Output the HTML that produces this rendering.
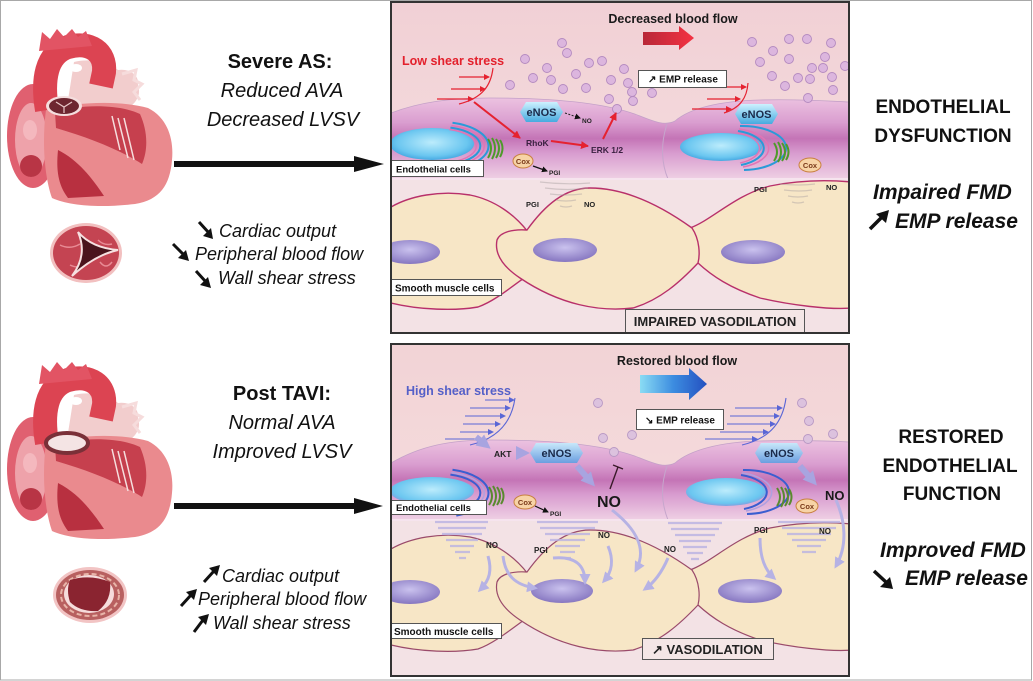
<!DOCTYPE html>
<html><head><meta charset="utf-8">
<style>
html,body{margin:0;padding:0;background:#fff;width:1033px;height:681px;overflow:hidden}
svg{display:block}
text{font-family:"Liberation Sans",Arial,sans-serif}
</style></head><body>
<svg width="1033" height="681" viewBox="0 0 1033 681" xmlns="http://www.w3.org/2000/svg">
<defs>
<clipPath id="cT"><rect x="391" y="2" width="458" height="331"/></clipPath>
<clipPath id="cB"><rect x="391" y="344" width="458" height="332"/></clipPath>
<linearGradient id="lumT" x1="0" y1="0" x2="0" y2="1"><stop offset="0" stop-color="#f1d0d5"/><stop offset="1" stop-color="#f7e4e4"/></linearGradient>
<linearGradient id="lumB" x1="0" y1="0" x2="0" y2="1"><stop offset="0" stop-color="#f2d3d6"/><stop offset="1" stop-color="#f7e4e2"/></linearGradient>
<linearGradient id="endo" x1="0" y1="0" x2="0" y2="1">
<stop offset="0" stop-color="#ecc2e0"/><stop offset="0.3" stop-color="#da9ed0"/><stop offset="0.5" stop-color="#c474b6"/><stop offset="0.68" stop-color="#d89ccf"/><stop offset="1" stop-color="#efd0e4"/></linearGradient>
<radialGradient id="nuc" cx="0.5" cy="0.45" r="0.6"><stop offset="0" stop-color="#bcecfc"/><stop offset="0.7" stop-color="#6ac6f0"/><stop offset="1" stop-color="#3a9edc"/></radialGradient>
<radialGradient id="nucB" cx="0.5" cy="0.45" r="0.6"><stop offset="0" stop-color="#bcecfc"/><stop offset="0.75" stop-color="#6ac6f0"/><stop offset="1" stop-color="#8a90d8"/></radialGradient>
<radialGradient id="smn" cx="0.5" cy="0.4" r="0.6"><stop offset="0" stop-color="#cac2ee"/><stop offset="1" stop-color="#8676c0"/></radialGradient>
<linearGradient id="hex" x1="0" y1="0" x2="0" y2="1"><stop offset="0" stop-color="#cdf1ff"/><stop offset="1" stop-color="#46aadf"/></linearGradient>
<linearGradient id="hexB" x1="0" y1="0" x2="0" y2="1"><stop offset="0" stop-color="#c8e8fa"/><stop offset="1" stop-color="#6a9ee0"/></linearGradient>
<linearGradient id="redA" x1="0" x2="1" y1="0" y2="0"><stop offset="0" stop-color="#b82838"/><stop offset="1" stop-color="#f43242"/></linearGradient>
<linearGradient id="bluA" x1="0" x2="1" y1="0" y2="0"><stop offset="0" stop-color="#8adcf4"/><stop offset="0.5" stop-color="#3c8ce0"/><stop offset="1" stop-color="#2450c0"/></linearGradient>
<marker id="mR" markerUnits="userSpaceOnUse" markerWidth="8" markerHeight="8" refX="7" refY="4" orient="auto"><path d="M0,0 L8,4 L0,8 Z" fill="#e52230"/></marker>
<marker id="mRs" markerUnits="userSpaceOnUse" markerWidth="6" markerHeight="6" refX="5" refY="3" orient="auto"><path d="M0,0 L6,3 L0,6 Z" fill="#e52230"/></marker>
<marker id="mBl" markerUnits="userSpaceOnUse" markerWidth="6" markerHeight="6" refX="5" refY="3" orient="auto"><path d="M0,0 L6,3 L0,6 Z" fill="#5a66d6"/></marker>
<marker id="mK" markerUnits="userSpaceOnUse" markerWidth="6" markerHeight="6" refX="5" refY="3" orient="auto"><path d="M0,0 L6,3 L0,6 Z" fill="#111"/></marker>
<marker id="mL" markerUnits="userSpaceOnUse" markerWidth="11" markerHeight="11" refX="8" refY="5.5" orient="auto"><path d="M0,0 L11,5.5 L0,11 Z" fill="#b6b2e4"/></marker>
<marker id="mLB" markerUnits="userSpaceOnUse" markerWidth="14" markerHeight="14" refX="8" refY="7" orient="auto"><path d="M0,0 L14,7 L0,14 Z" fill="#a8a4e0"/></marker>
<g id="heartBase">
 <path d="M74,62 C90,58 108,62 118,70 C130,68 140,76 138,86 C142,96 134,106 124,110 C100,112 82,106 68,100 Z" fill="#f2cdcd"/>
 <path d="M122,74 L136,70 L134,80 L142,84 L134,92 L140,100" fill="none" stroke="#f6dcdc" stroke-width="3"/>
 <ellipse cx="33" cy="136" rx="26" ry="52" fill="#e06070"/>
 <ellipse cx="31" cy="140" rx="16" ry="37" fill="#eea2aa"/>
 <ellipse cx="30" cy="130" rx="7" ry="10" fill="#f4b8be"/>
 <ellipse cx="31" cy="166" rx="11" ry="11" fill="#b83545"/>
 <path d="M46,110 C75,102 120,100 148,108 C168,118 174,140 172,160 C170,185 160,200 135,204 C100,208 70,206 52,198 C44,175 42,140 46,110 Z" fill="#ea8a8e"/>
 <path d="M55,112 C80,104 120,104 140,114 C148,132 148,150 142,164 C120,150 90,138 56,128 Z" fill="#c6404e"/>
 <path d="M58,150 C78,160 92,178 104,196 L68,198 C58,185 56,170 58,150 Z" fill="#b83040"/>
 <path d="M118,118 L128,158 M124,118 L134,160 M112,116 L120,150" stroke="#f6dede" stroke-width="1.5"/>
 <path d="M47,110 C42,80 46,54 68,47 C90,41 106,52 104,72 L101,86" fill="none" stroke="#dc4452" stroke-width="24"/>
 <path d="M39,51 L42,32 L50,39 L57,29 L64,37 L72,29 L78,37 L86,31 L92,46 Z" fill="#e25464"/>
 <ellipse cx="76" cy="68" rx="6" ry="4" fill="#fff"/>
</g>
</defs>

<rect x="0" y="0" width="1033" height="681" fill="#fff"/>
<rect x="0.5" y="0.5" width="1031" height="679.5" fill="none" stroke="#a8a8a8" stroke-width="1"/>

<!-- ================= HEARTS ================= -->
<use href="#heartBase"/>
<ellipse cx="64" cy="106" rx="18" ry="10" fill="#f4dede"/>
<ellipse cx="64" cy="106" rx="15" ry="8" fill="#6e2630"/>
<path d="M56,102 L64,107 L72,102 M64,107 L64,113" stroke="#e8c8c8" stroke-width="1.2" fill="none"/>
<!-- top valve -->
<ellipse cx="86" cy="253" rx="36" ry="30" fill="#f2c0c0"/>
<ellipse cx="86" cy="253" rx="33" ry="27" fill="#c44452"/>
<path d="M60,245 Q70,250 80,244 M98,240 Q104,246 112,244 M70,265 Q80,270 86,262 M100,262 Q106,270 112,262" stroke="#e88a94" stroke-width="1.5" fill="none"/>
<path d="M78,232 Q92,248 118,250 Q95,255 72,276 Q88,255 78,232 Z" fill="#4a141c" stroke="#f6e0e0" stroke-width="2"/>

<g transform="translate(0,333)">
 <use href="#heartBase"/>
 <ellipse cx="67" cy="110" rx="21" ry="10" fill="#f4e4e4" stroke="#7a3038" stroke-width="4"/>
</g>
<!-- bottom valve -->
<ellipse cx="90" cy="595" rx="37" ry="28" fill="#f2c4c4"/>
<ellipse cx="90" cy="595" rx="34" ry="25" fill="#b86060"/>
<ellipse cx="90" cy="595" rx="29" ry="21" fill="none" stroke="#e8b4a8" stroke-width="2" stroke-dasharray="5 3"/>
<ellipse cx="89" cy="594" rx="25" ry="19" fill="#f6dcdc"/>
<path d="M70,580 Q90,574 110,582 Q112,600 98,611 Q80,612 70,602 Q66,590 70,580 Z" fill="#8a2430"/>

<!-- ================= LEFT TEXT ================= -->
<text x="280" y="68" font-size="20" font-weight="bold" text-anchor="middle" fill="#111">Severe AS:</text>
<text x="282" y="97" font-size="20" font-style="italic" text-anchor="middle" fill="#111">Reduced AVA</text>
<text x="283" y="126" font-size="20" font-style="italic" text-anchor="middle" fill="#111">Decreased LVSV</text>
<line x1="174" y1="164" x2="357" y2="164" stroke="#111" stroke-width="6"/>
<polygon points="354,156 384,164 354,172" fill="#111"/>

<g fill="#111" font-size="18" font-style="italic">
<text x="219" y="237">Cardiac  output</text>
<text x="195" y="260">Peripheral blood flow</text>
<text x="218" y="284">Wall shear stress</text>
</g>
<g stroke="#111" stroke-width="3">
<line x1="199" y1="222" x2="209" y2="233"/><line x1="173" y1="244" x2="184" y2="255"/><line x1="196" y1="271" x2="206" y2="282"/>
</g>
<g fill="#111">
<polygon points="213,239 203,236 211,228"/><polygon points="189,261 178,258 186,250"/><polygon points="211,288 200,285 208,277"/>
</g>

<text x="282" y="400" font-size="20" font-weight="bold" text-anchor="middle" fill="#111">Post TAVI:</text>
<text x="282" y="429" font-size="20" font-style="italic" text-anchor="middle" fill="#111">Normal AVA</text>
<text x="282" y="458" font-size="20" font-style="italic" text-anchor="middle" fill="#111">Improved LVSV</text>
<line x1="174" y1="506" x2="357" y2="506" stroke="#111" stroke-width="6"/>
<polygon points="354,498 383,506 354,514" fill="#111"/>

<g fill="#111" font-size="18" font-style="italic">
<text x="222" y="582">Cardiac  output</text>
<text x="198" y="605">Peripheral blood flow</text>
<text x="213" y="629">Wall shear stress</text>
</g>
<g stroke="#111" stroke-width="3">
<line x1="204" y1="582" x2="214" y2="571"/><line x1="181" y1="606" x2="191" y2="595"/><line x1="194" y1="632" x2="203" y2="620"/>
</g>
<g fill="#111">
<polygon points="220,565 217,576 209,568"/><polygon points="197,589 194,600 186,592"/><polygon points="209,614 206,625 198,617"/>
</g>

<!-- ================= RIGHT TEXT ================= -->
<g fill="#111" font-weight="bold" text-anchor="middle" font-size="19">
<text x="943" y="113">ENDOTHELIAL</text>
<text x="943" y="142">DYSFUNCTION</text>
<text x="951" y="443">RESTORED</text>
<text x="950" y="472">ENDOTHELIAL</text>
<text x="952" y="500">FUNCTION</text>
</g>
<g fill="#111" font-weight="bold" font-style="italic" font-size="21">
<text x="873" y="199">Impaired FMD</text>
<text x="895" y="228">EMP release</text>
<text x="880" y="557">Improved FMD</text>
<text x="905" y="585">EMP release</text>
</g>
<line x1="870" y1="229" x2="882" y2="217" stroke="#111" stroke-width="3.5"/>
<polygon points="889,210 886,223 876,214" fill="#111"/>
<line x1="874" y1="571" x2="887" y2="583" stroke="#111" stroke-width="3.5"/>
<polygon points="893,589 880,587 890,577" fill="#111"/>

<!-- ================= TOP PANEL ================= -->
<g clip-path="url(#cT)">
<rect x="391" y="2" width="458" height="331" fill="url(#lumT)"/>
<rect x="391" y="176" width="458" height="160" fill="#f3e2e5"/>
<path d="M391,113 C420,102 450,98 490,98 C560,98 610,104 640,116 C655,122 665,126 675,121 C690,108 720,101 760,100 C800,99 830,101 849,102 L849,179 L391,179 Z" fill="url(#endo)" stroke="#c4a0c8" stroke-width="0.8"/>
<path d="M667,124 C660,145 662,165 668,179" stroke="#c6a6cc" fill="none"/>
<line x1="391" y1="179" x2="849" y2="179" stroke="#f6e4ee" stroke-width="2"/>

<!-- smooth muscle cells -->
<g fill="#f7e6c6" stroke="#b8306a" stroke-width="1.4">
<path d="M391,207 C410,196 440,190 470,195 C495,200 515,215 528,232 C520,250 518,268 524,278 C505,292 492,302 478,307 C455,311 420,310 391,303 Z"/>
<path d="M690,228 C712,220 735,195 770,186 C800,180 830,180 852,182 L852,308 C830,310 790,305 760,298 C730,288 712,276 698,263 C688,252 685,238 690,228 Z"/>
<path d="M497,240 C500,232 513,229 527,230 C545,205 565,188 590,188 C625,188 660,205 692,228 C700,240 700,255 698,263 C680,282 660,300 633,308 C600,312 560,305 520,278 C505,268 494,255 497,240 Z"/>
</g>
<ellipse cx="410" cy="252" rx="30" ry="12" fill="url(#smn)"/>
<ellipse cx="565" cy="250" rx="32" ry="12" fill="url(#smn)"/>
<ellipse cx="753" cy="252" rx="32" ry="12" fill="url(#smn)"/>
<g stroke="#a8a0a0" stroke-width="1.2" fill="none" opacity="0.45">
<path d="M540,182 Q565,185 590,183 M545,188 Q568,191 588,188 M550,194 Q566,196 582,194 M556,200 Q566,202 576,200 M560,206 Q566,208 572,206"/>
<path d="M780,184 Q800,186 815,184 M784,190 Q800,192 812,190 M788,196 Q798,198 808,196 M792,202 Q798,204 804,202"/>
</g>
<g font-size="7.5" font-weight="bold" fill="#222">
<text x="526" y="207">PGI</text><text x="584" y="207">NO</text>
<text x="754" y="192">PGI</text><text x="826" y="190">NO</text>
</g>

<!-- nuclei + arcs -->
<ellipse cx="432" cy="144" rx="42" ry="16" fill="url(#nuc)"/>
<g fill="none">
<path d="M452.5,122.7 A48,24 0 0 1 456.3,168.6" stroke="#2a9ad8" stroke-width="2"/>
<path d="M451.4,125.6 A44,21 0 0 1 455,165.7" stroke="#e274b4" stroke-width="1.5"/>
<path d="M450.4,127.6 A40,19 0 0 1 453.6,163.9" stroke="#2a9ad8" stroke-width="2"/>
<path d="M449.4,129.5 A36,17 0 0 1 452.2,162" stroke="#e274b4" stroke-width="1.4"/>
</g>
<g fill="none" stroke="#4e9a2a" stroke-width="2">
<path d="M488,139 Q494,148 488,158"/><path d="M492,138 Q498,148 492,159"/><path d="M496,139 Q502,148 496,158"/><path d="M500,140 Q505,148 500,157"/>
</g>
<ellipse cx="721" cy="147" rx="41" ry="14" fill="url(#nuc)"/>
<g fill="none">
<path d="M740,126 A44,22 0 0 1 744,170" stroke="#2a9ad8" stroke-width="2"/>
<path d="M739,129 A40,20 0 0 1 743,167" stroke="#e274b4" stroke-width="1.5"/>
<path d="M738,131 A36,18 0 0 1 741,165" stroke="#2a9ad8" stroke-width="2"/>
<path d="M737,133 A32,16 0 0 1 740,163" stroke="#e274b4" stroke-width="1.4"/>
</g>
<g fill="none" stroke="#4e9a2a" stroke-width="2">
<path d="M774,143 Q780,152 774,161"/><path d="M778,142 Q784,152 778,162"/><path d="M782,143 Q788,152 782,161"/><path d="M786,144 Q791,152 786,160"/>
</g>

<!-- eNOS -->
<polygon points="526,102 557,102 563,112 557,122 526,122 520,112" fill="url(#hex)"/>
<text x="541.5" y="116" font-size="11" font-weight="bold" text-anchor="middle" fill="#1a2a4a">eNOS</text>
<polygon points="741,104 772,104 778,114 772,124 741,124 735,114" fill="url(#hex)"/>
<text x="756.5" y="118" font-size="11" font-weight="bold" text-anchor="middle" fill="#1a2a4a">eNOS</text>
<line x1="565" y1="113" x2="580" y2="118" stroke="#222" stroke-width="1" stroke-dasharray="2 1.5" marker-end="url(#mK)"/>
<text x="582" y="123" font-size="6.5" font-weight="bold" fill="#222">NO</text>

<!-- microparticles -->
<g fill="#dcb6de" stroke="#b48ac0" stroke-width="0.9">
<circle cx="562" cy="43" r="4.5"/><circle cx="567" cy="53" r="4.5"/><circle cx="525" cy="59" r="4.5"/><circle cx="547" cy="68" r="4.5"/><circle cx="533" cy="78" r="4.5"/><circle cx="551" cy="80" r="4.5"/><circle cx="576" cy="74" r="4.5"/><circle cx="589" cy="63" r="4.5"/><circle cx="602" cy="61" r="4.5"/><circle cx="624" cy="69" r="4.5"/><circle cx="611" cy="80" r="4.5"/><circle cx="586" cy="88" r="4.5"/><circle cx="563" cy="89" r="4.5"/><circle cx="510" cy="85" r="4.5"/><circle cx="628" cy="83" r="4.5"/><circle cx="632" cy="92" r="4.5"/><circle cx="652" cy="93" r="4.5"/><circle cx="609" cy="99" r="4.5"/><circle cx="633" cy="101" r="4.5"/><circle cx="617" cy="109" r="4.5"/>
<circle cx="752" cy="42" r="4.5"/><circle cx="773" cy="51" r="4.5"/><circle cx="789" cy="39" r="4.5"/><circle cx="807" cy="39" r="4.5"/><circle cx="831" cy="43" r="4.5"/><circle cx="760" cy="62" r="4.5"/><circle cx="789" cy="59" r="4.5"/><circle cx="825" cy="57" r="4.5"/><circle cx="812" cy="68" r="4.5"/><circle cx="823" cy="68" r="4.5"/><circle cx="845" cy="66" r="4.5"/><circle cx="772" cy="76" r="4.5"/><circle cx="798" cy="78" r="4.5"/><circle cx="810" cy="79" r="4.5"/><circle cx="832" cy="77" r="4.5"/><circle cx="785" cy="86" r="4.5"/><circle cx="833" cy="90" r="4.5"/><circle cx="808" cy="98" r="4.5"/>
</g>

<!-- titles -->
<text x="673" y="23" font-size="12.5" font-weight="bold" text-anchor="middle" fill="#1a1a1a">Decreased blood flow</text>
<polygon points="643,32 679,32 679,26 694,38 679,50 679,45 643,45" fill="url(#redA)"/>
<text x="402" y="65" font-size="12.5" font-weight="bold" fill="#e3202c">Low shear stress</text>

<!-- red flow lines -->
<g stroke="#e52230" stroke-width="1.2" fill="none">
<path d="M493,68 C491,85 483,98 459,104"/>
<line x1="459" y1="77" x2="489" y2="77" marker-end="url(#mRs)"/>
<line x1="451" y1="89" x2="485" y2="89" marker-end="url(#mRs)"/>
<line x1="437" y1="99" x2="473" y2="99" marker-end="url(#mRs)"/>
<path d="M748,83 C747,98 740,108 724,113"/>
<line x1="714" y1="87" x2="746" y2="87" marker-end="url(#mRs)"/>
<line x1="707" y1="99" x2="740" y2="99" marker-end="url(#mRs)"/>
<line x1="692" y1="109" x2="731" y2="109" marker-end="url(#mRs)"/>
</g>
<g stroke="#e52230" stroke-width="2" fill="none">
<line x1="474" y1="102" x2="520" y2="138" marker-end="url(#mR)"/>
<line x1="551" y1="141" x2="588" y2="146" marker-end="url(#mR)"/>
<line x1="603" y1="139" x2="616" y2="113" marker-end="url(#mR)"/>
</g>
<text x="526" y="146" font-size="8.5" font-weight="bold" fill="#3a2040">RhoK</text>
<text x="591" y="153" font-size="8.5" font-weight="bold" fill="#3a2040">ERK 1/2</text>

<!-- Cox -->
<ellipse cx="523" cy="161" rx="10" ry="7" fill="#f7d3a6" stroke="#c88040"/>
<text x="523" y="164" font-size="7.5" font-weight="bold" text-anchor="middle" fill="#7a3a1a">Cox</text>
<line x1="533" y1="166" x2="547" y2="171" stroke="#111" stroke-width="1.2" marker-end="url(#mK)"/>
<text x="549" y="175" font-size="6.5" font-weight="bold" fill="#222">PGI</text>
<ellipse cx="810" cy="165" rx="11" ry="7" fill="#f7d3a6" stroke="#c88040"/>
<text x="810" y="168" font-size="7.5" font-weight="bold" text-anchor="middle" fill="#7a3a1a">Cox</text>

<!-- boxes -->
<rect x="638.5" y="70.5" width="88" height="17" fill="#fff" stroke="#555"/>
<text x="648" y="82.5" font-size="10" font-weight="bold" fill="#111">↗ EMP release</text>
<rect x="391.5" y="160.5" width="92" height="16" fill="#fff" stroke="#555"/>
<text x="396" y="172.5" font-size="9.5" font-weight="bold" fill="#111">Endothelial cells</text>
<rect x="391.5" y="279.5" width="110" height="16" fill="#fff" stroke="#555"/>
<text x="395" y="291.5" font-size="10" font-weight="bold" fill="#111">Smooth muscle cells</text>
<rect x="625.5" y="309.5" width="179" height="23" fill="#f4e6e6" stroke="#555"/>
<text x="715" y="326" font-size="13" font-weight="bold" text-anchor="middle" fill="#222">IMPAIRED VASODILATION</text>
</g>
<rect x="391" y="2" width="458" height="331" fill="none" stroke="#333" stroke-width="2"/>

<!-- ================= BOTTOM PANEL ================= -->
<g clip-path="url(#cB)">
<rect x="391" y="344" width="458" height="332" fill="url(#lumB)"/>
<rect x="391" y="518" width="458" height="160" fill="#f3e2e5"/>
<path d="M391,463 C420,446 450,440 490,440 C560,440 610,446 640,458 C655,464 665,468 675,463 C690,450 720,442 760,441 C800,440 830,441 849,442 L849,520 L391,520 Z" fill="url(#endo)" stroke="#c4a0c8" stroke-width="0.8"/>
<path d="M667,466 C660,487 662,505 668,520" stroke="#c6a6cc" fill="none"/>
<line x1="391" y1="520" x2="849" y2="520" stroke="#f6e4ee" stroke-width="2"/>

<g transform="translate(0,342)">
<g fill="#f7e6c6" stroke="#9a4a6a" stroke-width="1.2">
<path d="M391,207 C410,196 440,190 470,195 C495,200 515,215 528,232 C520,250 518,268 524,278 C505,292 492,302 478,307 C455,311 420,310 391,303 Z"/>
<path d="M690,228 C712,220 735,195 770,186 C800,180 830,180 852,182 L852,308 C830,310 790,305 760,298 C730,288 712,276 698,263 C688,252 685,238 690,228 Z"/>
<path d="M497,240 C500,232 513,229 527,230 C545,205 565,188 590,188 C625,188 660,205 692,228 C700,240 700,255 698,263 C680,282 660,300 633,308 C600,312 560,305 520,278 C505,268 494,255 497,240 Z"/>
</g>
<ellipse cx="410" cy="250" rx="30" ry="12" fill="url(#smn)"/>
<ellipse cx="562" cy="249" rx="31" ry="12" fill="url(#smn)"/>
<ellipse cx="750" cy="249" rx="32" ry="12" fill="url(#smn)"/>
</g>

<!-- lavender funnels -->
<g stroke="#b8b2e2" stroke-width="2.2" fill="none" opacity="0.8">
<path d="M435,522 L488,522 M438,528 L486,528 M442,534 L482,534 M446,540 L478,540 M450,546 L474,546 M455,552 L470,552 M459,558 L466,558"/>
<path d="M537,522 L598,522 M540,528 L595,528 M545,534 L590,534 M550,540 L585,540 M555,546 L580,546 M560,552 L575,552 M564,558 L571,558"/>
<path d="M668,523 L722,523 M671,529 L719,529 M675,535 L715,535 M679,541 L711,541 M683,547 L707,547 M687,553 L703,553 M691,559 L699,559"/>
<path d="M778,522 L840,522 M782,528 L836,528 M787,534 L831,534 M792,540 L826,540 M797,546 L821,546 M802,552 L816,552"/>
</g>
<!-- curved lavender arrows -->
<g stroke="#b6b2e4" stroke-width="3" fill="none">
<path d="M488,556 C492,570 490,580 480,590" marker-end="url(#mL)"/>
<path d="M503,556 C505,575 515,585 535,588" marker-end="url(#mL)"/>
<path d="M553,558 C575,556 585,565 585,582" marker-end="url(#mL)"/>
<path d="M608,546 C614,560 612,572 604,581" marker-end="url(#mL)"/>
<path d="M612,510 C635,528 648,548 636,570" marker-end="url(#mL)"/>
<path d="M668,558 C662,572 655,582 645,589" marker-end="url(#mL)"/>
<path d="M760,538 C760,558 765,570 774,578" marker-end="url(#mL)"/>
<path d="M836,500 C845,520 848,545 836,566" marker-end="url(#mL)"/>
</g>
<g font-size="8" font-weight="bold" fill="#222">
<text x="486" y="548">NO</text><text x="598" y="538">NO</text><text x="534" y="553">PGI</text><text x="664" y="552">NO</text><text x="754" y="533">PGI</text><text x="819" y="534">NO</text>
</g>

<!-- nuclei + arcs -->
<ellipse cx="432" cy="491" rx="42" ry="14" fill="url(#nucB)"/>
<g fill="none">
<path d="M452.5,469.7 A48,24 0 0 1 456.3,515.6" stroke="#3a5ed0" stroke-width="2"/>
<path d="M451.4,472.6 A44,21 0 0 1 455,512.7" stroke="#b0a0e0" stroke-width="1.5"/>
<path d="M450.4,474.6 A40,19 0 0 1 453.6,510.9" stroke="#3a5ed0" stroke-width="2"/>
</g>
<g fill="none" stroke="#5a8a30" stroke-width="2">
<path d="M489,487 Q495,496 489,505"/><path d="M493,486 Q499,496 493,506"/><path d="M497,487 Q503,496 497,505"/><path d="M501,488 Q506,496 501,504"/>
</g>
<ellipse cx="726" cy="492" rx="40" ry="14" fill="url(#nucB)"/>
<g fill="none">
<path d="M743,470 A44,22 0 0 1 747,514" stroke="#3a5ed0" stroke-width="2"/>
<path d="M742,473 A40,20 0 0 1 746,511" stroke="#b0a0e0" stroke-width="1.5"/>
<path d="M741,475 A36,18 0 0 1 744,509" stroke="#3a5ed0" stroke-width="2"/>
</g>
<g fill="none" stroke="#5a8a30" stroke-width="2">
<path d="M777,488 Q783,497 777,506"/><path d="M781,487 Q787,497 781,507"/><path d="M785,488 Q791,497 785,506"/><path d="M789,489 Q794,497 789,505"/>
</g>

<!-- circles -->
<g fill="#dcc2de" stroke="#b898c4" stroke-width="0.9">
<circle cx="598" cy="403" r="4.5"/><circle cx="603" cy="438" r="4.5"/><circle cx="632" cy="435" r="4.5"/><circle cx="614" cy="452" r="4.5"/>
<circle cx="802" cy="403" r="4.5"/><circle cx="809" cy="421" r="4.5"/><circle cx="833" cy="434" r="4.5"/><circle cx="808" cy="439" r="4.5"/>
</g>

<text x="677" y="365" font-size="12.5" font-weight="bold" text-anchor="middle" fill="#1a1a1a">Restored blood flow</text>
<polygon points="640,375 689,375 689,368 707,384 689,400 689,393 640,393" fill="url(#bluA)"/>
<text x="406" y="395" font-size="12.5" font-weight="bold" fill="#5560c8">High shear stress</text>

<g stroke="#5a66d6" stroke-width="1.1" fill="none">
<path d="M515,398 C512,420 500,438 470,445"/>
<line x1="485" y1="400" x2="514" y2="400" marker-end="url(#mBl)"/>
<line x1="470" y1="408" x2="510" y2="408" marker-end="url(#mBl)"/>
<line x1="465" y1="416" x2="505" y2="416" marker-end="url(#mBl)"/>
<line x1="463" y1="424" x2="500" y2="424" marker-end="url(#mBl)"/>
<line x1="460" y1="432" x2="493" y2="432" marker-end="url(#mBl)"/>
<line x1="445" y1="439" x2="482" y2="439" marker-end="url(#mBl)"/>
<path d="M786,398 C783,420 772,438 742,445"/>
<line x1="735" y1="408" x2="782" y2="408" marker-end="url(#mBl)"/>
<line x1="730" y1="416" x2="779" y2="416" marker-end="url(#mBl)"/>
<line x1="727" y1="424" x2="775" y2="424" marker-end="url(#mBl)"/>
<line x1="720" y1="432" x2="768" y2="432" marker-end="url(#mBl)"/>
<line x1="705" y1="439" x2="757" y2="439" marker-end="url(#mBl)"/>
</g>

<!-- block arrows -->
<g stroke="#a8a4e0" stroke-width="6" fill="none">
<line x1="476" y1="437" x2="486" y2="445" marker-end="url(#mLB)"/>
<line x1="517" y1="453" x2="524" y2="453" marker-end="url(#mLB)"/>
<line x1="577" y1="466" x2="591" y2="482" marker-end="url(#mLB)"/>
<line x1="800" y1="466" x2="813" y2="481" marker-end="url(#mLB)"/>
</g>
<text x="494" y="457" font-size="8.5" font-weight="bold" fill="#222">AKT</text>
<polygon points="536,443 577,443 583,453 577,463 536,463 530,453" fill="url(#hexB)"/>
<text x="556.5" y="457" font-size="11" font-weight="bold" text-anchor="middle" fill="#1a2a4a">eNOS</text>
<polygon points="761,443 797,443 803,453 797,463 761,463 755,453" fill="url(#hexB)"/>
<text x="779" y="457" font-size="11" font-weight="bold" text-anchor="middle" fill="#1a2a4a">eNOS</text>
<text x="597" y="507" font-size="16" font-weight="bold" fill="#1a1a1a">NO</text>
<text x="825" y="500" font-size="13" font-weight="bold" fill="#1a1a1a">NO</text>
<line x1="610" y1="489" x2="618" y2="467" stroke="#3a1a2a" stroke-width="1.4"/>
<line x1="613" y1="465" x2="623" y2="469" stroke="#3a1a2a" stroke-width="1.4"/>

<ellipse cx="525" cy="502" rx="11" ry="7" fill="#f7d3a6" stroke="#c88040"/>
<text x="525" y="505" font-size="7.5" font-weight="bold" text-anchor="middle" fill="#7a3a1a">Cox</text>
<line x1="535" y1="506" x2="548" y2="512" stroke="#111" stroke-width="1.2" marker-end="url(#mK)"/>
<text x="550" y="516" font-size="6.5" font-weight="bold" fill="#222">PGI</text>
<ellipse cx="807" cy="506" rx="11" ry="7" fill="#f7d3a6" stroke="#c88040"/>
<text x="807" y="509" font-size="7.5" font-weight="bold" text-anchor="middle" fill="#7a3a1a">Cox</text>

<rect x="636.5" y="409.5" width="87" height="20" fill="#fff" stroke="#555"/>
<text x="645" y="423.5" font-size="10" font-weight="bold" fill="#111">↘ EMP release</text>
<rect x="391.5" y="500.5" width="95" height="14" fill="#fff" stroke="#555"/>
<text x="396" y="511" font-size="9.5" font-weight="bold" fill="#111">Endothelial cells</text>
<rect x="391.5" y="623.5" width="110" height="15" fill="#fff" stroke="#555"/>
<text x="394" y="635" font-size="10" font-weight="bold" fill="#111">Smooth muscle cells</text>
<rect x="642.5" y="638.5" width="131" height="21" fill="#f4e6e6" stroke="#555"/>
<text x="652" y="654" font-size="13" font-weight="bold" fill="#222">↗ VASODILATION</text>
</g>
<rect x="391" y="344" width="458" height="332" fill="none" stroke="#333" stroke-width="2"/>
</svg>
</body></html>
